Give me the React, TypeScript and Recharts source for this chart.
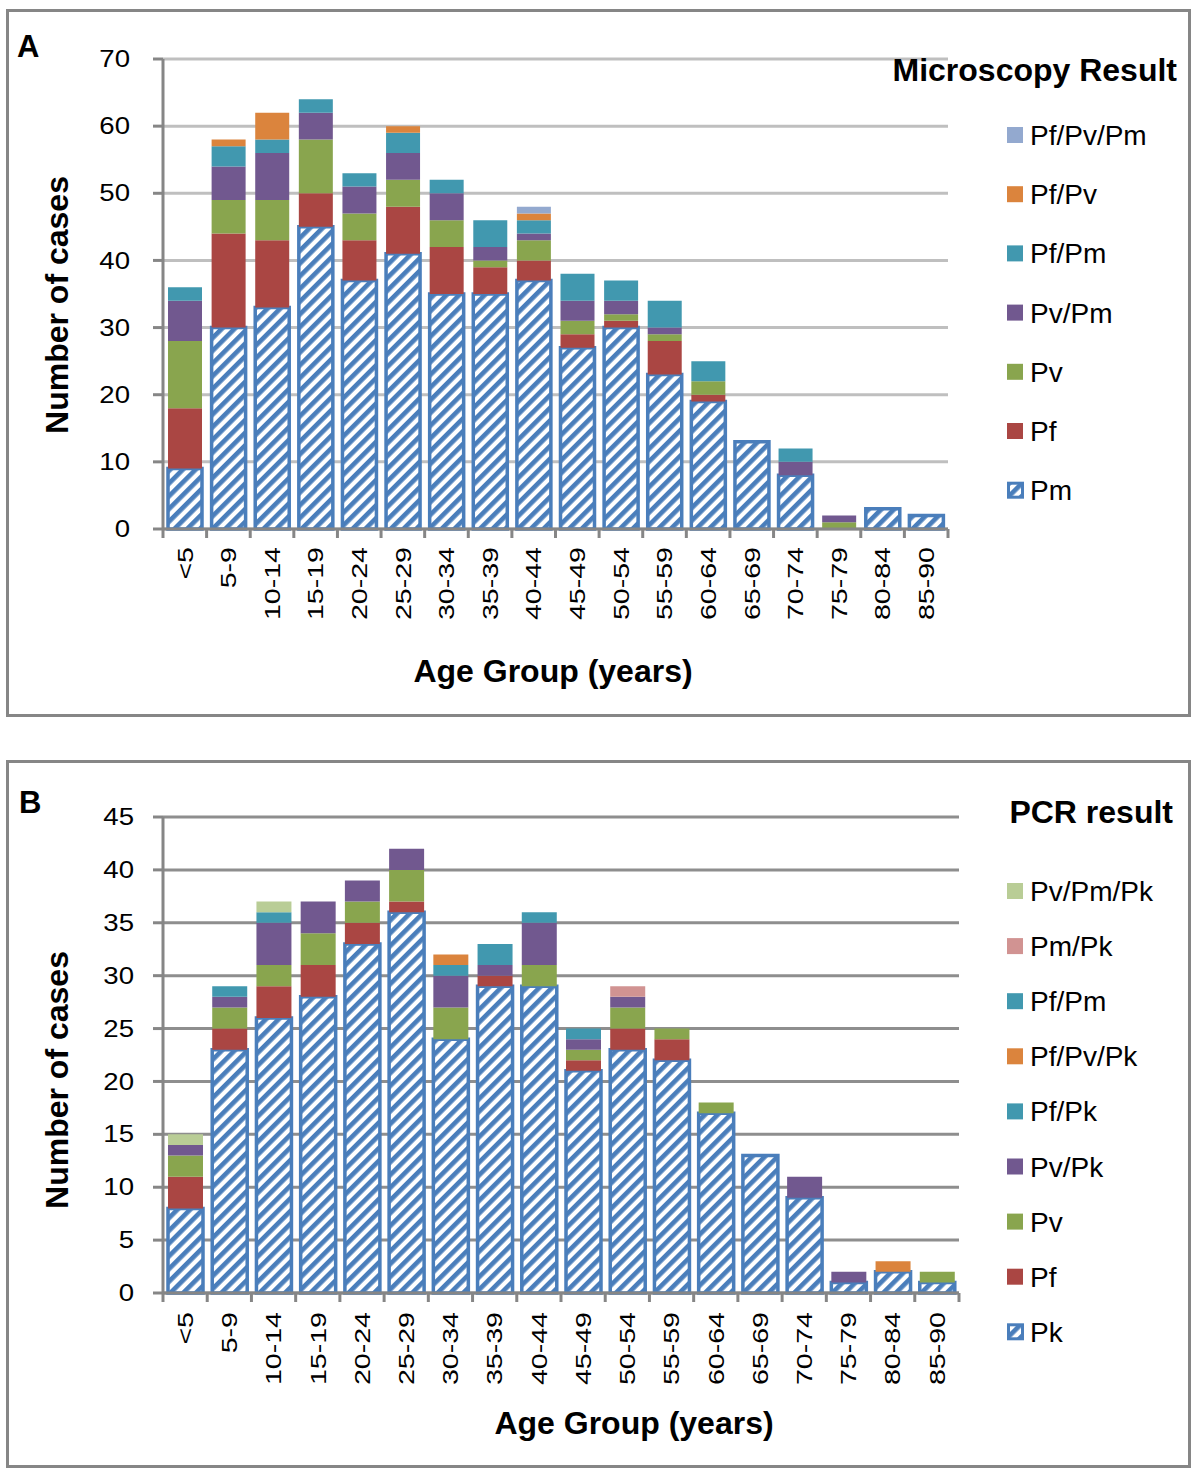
import React from 'react';
import { BarChart, Bar, XAxis, YAxis, CartesianGrid } from 'recharts';

// ---- shared categories ---------------------------------------------------
const AGE_GROUPS = [
  '<5', '5-9', '10-14', '15-19', '20-24', '25-29', '30-34', '35-39', '40-44',
  '45-49', '50-54', '55-59', '60-64', '65-69', '70-74', '75-79', '80-84', '85-90',
];

// ---- panel A: microscopy result (stack order bottom -> top) --------------
const MIC_PM     = [9, 30, 33, 45, 37, 41, 35, 35, 37, 27, 30, 23, 19, 13, 8, 0, 3, 2];
const MIC_PF     = [9, 14, 10, 5, 6, 7, 7, 4, 3, 2, 1, 5, 1, 0, 0, 0, 0, 0];
const MIC_PV     = [10, 5, 6, 8, 4, 4, 4, 1, 3, 2, 1, 1, 2, 0, 0, 1, 0, 0];
const MIC_PVPM   = [6, 5, 7, 4, 4, 4, 4, 2, 1, 3, 2, 1, 0, 0, 2, 1, 0, 0];
const MIC_PFPM   = [2, 3, 2, 2, 2, 3, 2, 4, 2, 4, 3, 4, 3, 0, 2, 0, 0, 0];
const MIC_PFPV   = [0, 1, 4, 0, 0, 1, 0, 0, 1, 0, 0, 0, 0, 0, 0, 0, 0, 0];
const MIC_PFPVPM = [0, 0, 0, 0, 0, 0, 0, 0, 1, 0, 0, 0, 0, 0, 0, 0, 0, 0];
const MIC_TICKS  = [0, 10, 20, 30, 40, 50, 60, 70];

// ---- panel B: PCR result (stack order bottom -> top) ---------------------
const PCR_PK     = [8, 23, 26, 28, 33, 36, 24, 29, 29, 21, 23, 22, 17, 13, 9, 1, 2, 1];
const PCR_PF     = [3, 2, 3, 3, 2, 1, 0, 1, 0, 1, 2, 2, 0, 0, 0, 0, 0, 0];
const PCR_PV     = [2, 2, 2, 3, 2, 3, 3, 0, 2, 1, 2, 1, 1, 0, 0, 0, 0, 1];
const PCR_PVPK   = [1, 1, 4, 3, 2, 2, 3, 1, 4, 1, 1, 0, 0, 0, 2, 1, 0, 0];
const PCR_PFPK   = [0, 1, 1, 0, 0, 0, 1, 2, 1, 0, 0, 0, 0, 0, 0, 0, 0, 0];
const PCR_PFPVPK = [0, 0, 0, 0, 0, 0, 1, 0, 0, 0, 0, 0, 0, 0, 0, 0, 1, 0];
const PCR_PFPM   = [0, 0, 0, 0, 0, 0, 0, 0, 0, 1, 0, 0, 0, 0, 0, 0, 0, 0];
const PCR_PMPK   = [0, 0, 0, 0, 0, 0, 0, 0, 0, 0, 1, 0, 0, 0, 0, 0, 0, 0];
const PCR_PVPMPK = [1, 0, 1, 0, 0, 0, 0, 0, 0, 0, 0, 0, 0, 0, 0, 0, 0, 0];
const PCR_TICKS  = [0, 5, 10, 15, 20, 25, 30, 35, 40, 45];

// ---- styling ---------------------------------------------------------------
const FONT = "'Liberation Sans', Arial, Helvetica, sans-serif";
const AXIS_GRAY = '#868686';
const STRIPE_BLUE = '#4A7EBB';

// Excel 2010 palette
const COLOURS: Record<string, string> = {
  'Pf': '#AA4643',
  'Pv': '#89A54E',
  'Pv/Pm': '#71588F',
  'Pf/Pm': '#4198AF',
  'Pf/Pv': '#DB843D',
  'Pf/Pv/Pm': '#93A9CF',
  'Pv/Pk': '#71588F',
  'Pf/Pk': '#4198AF',
  'Pf/Pv/Pk': '#DB843D',
  'Pm/Pk': '#D19392',
  'Pv/Pm/Pk': '#B9CD96',
};

interface Series { name: string; values: number[]; striped?: boolean }

const MIC_SERIES: Series[] = [
  { name: 'Pm', values: MIC_PM, striped: true },
  { name: 'Pf', values: MIC_PF },
  { name: 'Pv', values: MIC_PV },
  { name: 'Pv/Pm', values: MIC_PVPM },
  { name: 'Pf/Pm', values: MIC_PFPM },
  { name: 'Pf/Pv', values: MIC_PFPV },
  { name: 'Pf/Pv/Pm', values: MIC_PFPVPM },
];

const PCR_SERIES: Series[] = [
  { name: 'Pk', values: PCR_PK, striped: true },
  { name: 'Pf', values: PCR_PF },
  { name: 'Pv', values: PCR_PV },
  { name: 'Pv/Pk', values: PCR_PVPK },
  { name: 'Pf/Pk', values: PCR_PFPK },
  { name: 'Pf/Pv/Pk', values: PCR_PFPVPK },
  { name: 'Pf/Pm', values: PCR_PFPM },
  { name: 'Pm/Pk', values: PCR_PMPK },
  { name: 'Pv/Pm/Pk', values: PCR_PVPMPK },
];

function buildRows(series: Series[]) {
  return AGE_GROUPS.map((age, i) => {
    const row: Record<string, string | number> = { age };
    series.forEach(s => { row[s.name] = s.values[i]; });
    return row;
  });
}

// Diagonal "/" hatching used for the Pm / Pk series
const STRIPE_PERIOD = 9;
function StripePattern({ id }: { id: string }) {
  return (
    <pattern id={id} patternUnits="userSpaceOnUse" width={STRIPE_PERIOD} height={STRIPE_PERIOD} patternTransform="rotate(45)">
      <rect width={STRIPE_PERIOD} height={STRIPE_PERIOD} fill="#fff" />
      <rect width={STRIPE_PERIOD * 0.52} height={STRIPE_PERIOD} fill={STRIPE_BLUE} />
    </pattern>
  );
}

// Category tick: rotated label + tick marks on category boundaries
function makeAgeTick(band: number, labelGap: number) {
  return function AgeTick(props: any) {
    const { x, y, payload, index } = props;
    const half = band / 2;
    return (
      <g>
        <line x1={x - half} y1={y} x2={x - half} y2={y + 9} stroke={AXIS_GRAY} strokeWidth={3} />
        {index === AGE_GROUPS.length - 1 && (
          <line x1={x + half} y1={y} x2={x + half} y2={y + 9} stroke={AXIS_GRAY} strokeWidth={3} />
        )}
        <text
          transform={`translate(${x},${y + labelGap}) rotate(-90) scale(1.3,1)`}
          textAnchor="end"
          dominantBaseline="central"
          fontSize={22}
          fontFamily={FONT}
          fill="#000"
        >
          {payload.value}
        </text>
      </g>
    );
  };
}

function CountTick(props: any) {
  const { x, y, payload } = props;
  return (
    <text
      transform={`translate(${x},${y}) scale(1.2,1)`}
      textAnchor="end"
      dominantBaseline="central"
      fontSize={23}
      fontFamily={FONT}
      fill="#000"
    >
      {payload.value}
    </text>
  );
}

interface PanelProps {
  series: Series[];
  ticks: number[];
  patternId: string;
  plotRight: number;
  plotTop: number;
  plotBottom: number;
  barSize: number;
  gridColour: string;
  yTickMargin: number;
  labelGap: number;
}

const CHART_W = 1200;
const CHART_H = 720;
const Y_AXIS_W = 163;
const X_AXIS_H = 60;

function StackedPanel(p: PanelProps) {
  const rows = buildRows(p.series);
  const band = (p.plotRight - Y_AXIS_W) / AGE_GROUPS.length;
  const AgeTick = makeAgeTick(band, p.labelGap);
  return (
    <BarChart
      width={CHART_W}
      height={CHART_H}
      data={rows}
      margin={{ top: p.plotTop, right: CHART_W - p.plotRight, bottom: CHART_H - p.plotBottom - X_AXIS_H, left: 0 }}
    >
      <defs>
        <StripePattern id={p.patternId} />
      </defs>
      <CartesianGrid vertical={false} stroke={p.gridColour} strokeWidth={3} />
      <XAxis
        dataKey="age"
        height={X_AXIS_H}
        interval={0}
        tickSize={0}
        tickMargin={0}
        tickLine={false}
        axisLine={{ stroke: AXIS_GRAY, strokeWidth: 3 }}
        tick={<AgeTick />}
      />
      <YAxis
        width={Y_AXIS_W}
        domain={[0, p.ticks[p.ticks.length - 1]]}
        ticks={p.ticks}
        interval={0}
        tickSize={10}
        tickMargin={p.yTickMargin}
        tickLine={{ stroke: AXIS_GRAY, strokeWidth: 3 }}
        axisLine={{ stroke: AXIS_GRAY, strokeWidth: 3 }}
        tick={<CountTick />}
      />
      {p.series.map(s => (
        <Bar
          key={s.name}
          dataKey={s.name}
          stackId="stack"
          barSize={p.barSize}
          fill={s.striped ? `url(#${p.patternId})` : COLOURS[s.name]}
          stroke={s.striped ? STRIPE_BLUE : 'none'}
          strokeWidth={s.striped ? 3.5 : 0}
          isAnimationActive={false}
        />
      ))}
    </BarChart>
  );
}

function LegendBlock({ title, series, titleRight, titleBaseline, firstRow, rowStep, patternId }: {
  title: string; series: Series[]; titleRight: number; titleBaseline: number;
  firstRow: number; rowStep: number; patternId: string;
}) {
  const items = [...series].reverse();
  return (
    <g fontFamily={FONT}>
      <text x={titleRight} y={titleBaseline} textAnchor="end" fontSize={32} fontWeight="bold" fill="#000">{title}</text>
      {items.map((s, i) => {
        const cy = firstRow + i * rowStep;
        return (
          <g key={s.name}>
            {s.striped ? (
              <rect x={1008.5} y={cy - 7} width={14} height={14} fill={`url(#${patternId})`} stroke={STRIPE_BLUE} strokeWidth={3} />
            ) : (
              <rect x={1007} y={cy - 8} width={16} height={16} fill={COLOURS[s.name]} />
            )}
            <text x={1030} y={cy + 10} fontSize={28} fill="#000">{s.name}</text>
          </g>
        );
      })}
    </g>
  );
}

const frameStyle = (top: number): React.CSSProperties => ({
  position: 'absolute', left: 6, top, width: 1185, height: 708,
  border: `3px solid ${AXIS_GRAY}`, boxSizing: 'border-box',
});

export default function App() {
  return (
    <div style={{ position: 'absolute', left: 0, top: 0, width: 1200, height: 1477, background: '#fff', overflow: 'hidden' }}>
      <div style={frameStyle(9)} />
      <div style={frameStyle(760)} />

      <div style={{ position: 'absolute', left: 0, top: 0 }}>
        <StackedPanel
          series={MIC_SERIES} ticks={MIC_TICKS} patternId="stripesA"
          plotRight={948} plotTop={59} plotBottom={529} barSize={34}
          gridColour="#BFBFBF" yTickMargin={23} labelGap={18}
        />
      </div>
      <div style={{ position: 'absolute', left: 0, top: 760 }}>
        <StackedPanel
          series={PCR_SERIES} ticks={PCR_TICKS} patternId="stripesB"
          plotRight={959} plotTop={57} plotBottom={533} barSize={35}
          gridColour="#8E8E8E" yTickMargin={19} labelGap={19}
        />
      </div>

      <svg width={1200} height={1477} style={{ position: 'absolute', left: 0, top: 0, pointerEvents: 'none' }}>
        <g fontFamily={FONT} fontWeight="bold" fill="#000">
          <text x={17} y={57} fontSize={31}>A</text>
          <text transform="translate(68,305) rotate(-90)" textAnchor="middle" fontSize={32}>Number of cases</text>
          <text x={553} y={682} textAnchor="middle" fontSize={32}>Age Group (years)</text>

          <text x={19} y={813} fontSize={31}>B</text>
          <text transform="translate(68,1080) rotate(-90)" textAnchor="middle" fontSize={32}>Number of cases</text>
          <text x={634} y={1434} textAnchor="middle" fontSize={32}>Age Group (years)</text>
        </g>
        <LegendBlock
          title="Microscopy Result" series={MIC_SERIES} titleRight={1177} titleBaseline={81}
          firstRow={135} rowStep={59.2} patternId="stripesA"
        />
        <LegendBlock
          title="PCR result" series={PCR_SERIES} titleRight={1173} titleBaseline={823}
          firstRow={891} rowStep={55.1} patternId="stripesB"
        />
      </svg>
    </div>
  );
}
